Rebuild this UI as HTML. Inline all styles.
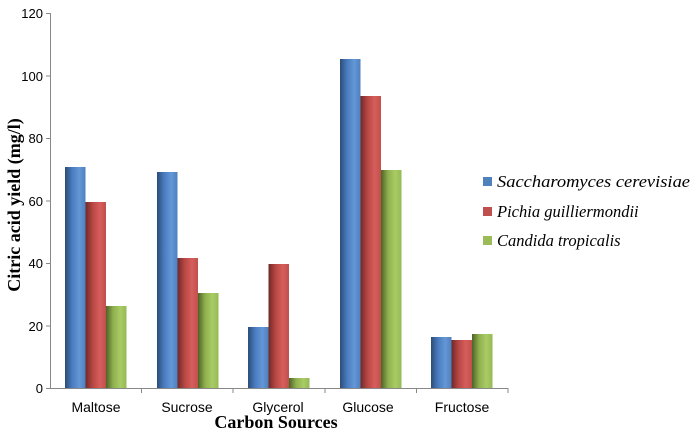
<!DOCTYPE html>
<html><head><style>body{margin:0;background:#fff}svg{display:block}</style></head><body>
<svg width="700" height="430" xmlns="http://www.w3.org/2000/svg">
<defs>
<linearGradient id="b" x1="0" x2="1"><stop offset="0" stop-color="#2c4d78"/><stop offset="0.35" stop-color="#4a7cc0"/><stop offset="0.7" stop-color="#6497d6"/><stop offset="1" stop-color="#4f80c0"/></linearGradient>
<linearGradient id="r" x1="0" x2="1"><stop offset="0" stop-color="#6e2a28"/><stop offset="0.35" stop-color="#b84744"/><stop offset="0.7" stop-color="#d65e5b"/><stop offset="1" stop-color="#c0504d"/></linearGradient>
<linearGradient id="g" x1="0" x2="1"><stop offset="0" stop-color="#4e6326"/><stop offset="0.35" stop-color="#8fb04e"/><stop offset="0.7" stop-color="#a9cc66"/><stop offset="1" stop-color="#95b955"/></linearGradient>
</defs>
<g stroke="#888" stroke-width="1">
<line x1="50.5" y1="13" x2="50.5" y2="388"/>
<line x1="46" y1="388.5" x2="508" y2="388.5"/>
<line x1="46" y1="13.5" x2="50" y2="13.5"/><line x1="46" y1="76" x2="50" y2="76"/><line x1="46" y1="138.5" x2="50" y2="138.5"/><line x1="46" y1="201" x2="50" y2="201"/><line x1="46" y1="263.5" x2="50" y2="263.5"/><line x1="46" y1="326" x2="50" y2="326"/>
<line x1="141.5" y1="388" x2="141.5" y2="393"/><line x1="233" y1="388" x2="233" y2="393"/><line x1="325" y1="388" x2="325" y2="393"/><line x1="416.5" y1="388" x2="416.5" y2="393"/><line x1="508" y1="388" x2="508" y2="393"/>
</g>
<g font-family="Liberation Sans, sans-serif" font-size="13" fill="#000" text-anchor="end">
<text x="43" y="18">120</text><text x="43" y="81">100</text><text x="43" y="143">80</text><text x="43" y="206">60</text><text x="43" y="268">40</text><text x="43" y="331">20</text><text x="43" y="393">0</text>
</g>
<g font-family="Liberation Sans, sans-serif" font-size="14" fill="#000" text-anchor="middle">
<text x="96" y="412">Maltose</text><text x="187" y="412">Sucrose</text><text x="278" y="412">Glycerol</text><text x="368" y="412">Glucose</text><text x="462" y="412">Fructose</text>
</g>
<g>
<rect x="65" y="167" width="20.5" height="221" fill="url(#b)"/><rect x="85.5" y="202" width="20.5" height="186" fill="url(#r)"/><rect x="106" y="306" width="20.5" height="82" fill="url(#g)"/>
<rect x="157" y="172" width="20.5" height="216" fill="url(#b)"/><rect x="177.5" y="258" width="20.5" height="130" fill="url(#r)"/><rect x="198" y="293" width="20.5" height="95" fill="url(#g)"/>
<rect x="248" y="327" width="20.5" height="61" fill="url(#b)"/><rect x="268.5" y="264" width="20.5" height="124" fill="url(#r)"/><rect x="289" y="378" width="20.5" height="10" fill="url(#g)"/>
<rect x="340" y="59" width="20.5" height="329" fill="url(#b)"/><rect x="360.5" y="96" width="20.5" height="292" fill="url(#r)"/><rect x="381" y="170" width="20.5" height="218" fill="url(#g)"/>
<rect x="431" y="337" width="20.5" height="51" fill="url(#b)"/><rect x="451.5" y="340" width="20.5" height="48" fill="url(#r)"/><rect x="472" y="334" width="20.5" height="54" fill="url(#g)"/>
</g>
<rect x="483" y="177" width="9" height="9" fill="#4f81bd"/>
<rect x="483" y="207" width="9" height="9" fill="#c0504d"/>
<rect x="483" y="236" width="9" height="9" fill="#9bbb59"/>
<g font-family="Liberation Serif, serif" font-style="italic" font-size="16.5" fill="#000">
<text x="497" y="187" textLength="193" lengthAdjust="spacingAndGlyphs">Saccharomyces cerevisiae</text><text x="497" y="217">Pichia guilliermondii</text><text x="497" y="246">Candida tropicalis</text>
</g>
<text x="276" y="428" font-family="Liberation Serif, serif" font-weight="bold" font-size="18" text-anchor="middle">Carbon Sources</text>
<text transform="translate(20,205) rotate(-90)" font-family="Liberation Serif, serif" font-weight="bold" font-size="18" text-anchor="middle">Citric acid yield (mg/l)</text>
</svg>
</body></html>
